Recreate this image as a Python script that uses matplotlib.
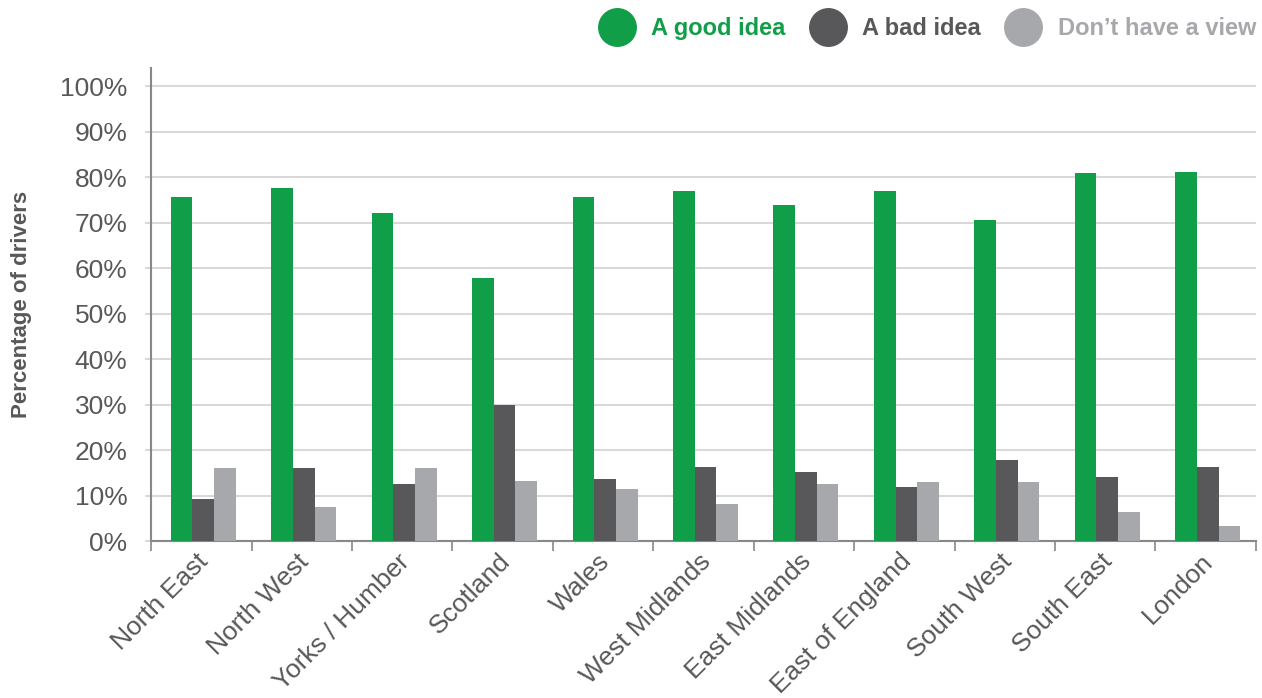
import matplotlib
matplotlib.use('Agg')

import numpy as np
import matplotlib.pyplot as plt
import matplotlib.transforms as mtransforms
from matplotlib.lines import Line2D

plt.rcParams['font.family'] = ['Liberation Sans', 'DejaVu Sans']

regions = ['North East', 'North West', 'Yorks / Humber', 'Scotland', 'Wales',
           'West Midlands', 'East Midlands', 'East of England', 'South West',
           'South East', 'London']
good_idea = [75.6, 77.6, 72.1, 57.8, 75.6, 76.9, 73.8, 76.9, 70.5, 80.9, 81.1]
bad_idea = [9.2, 16.0, 12.5, 29.9, 13.6, 16.3, 15.2, 11.9, 17.8, 14.1, 16.3]
no_view = [16.0, 7.5, 16.0, 13.2, 11.4, 8.1, 12.5, 13.0, 13.0, 6.4, 3.3]
series_names = ['A good idea', 'A bad idea', 'Don\u2019t have a view']

GREEN = '#119e48'
DARK = '#58585a'
LIGHT = '#a7a8ab'
TEXT = '#58585a'
colors = [GREEN, DARK, LIGHT]

fig = plt.figure(figsize=(12.62, 6.98), dpi=100)
ax = fig.add_axes([0.1197, 0.2249, 0.8755, 0.6777])

x = np.arange(len(regions))
w = 0.216
for i, (vals, c) in enumerate(zip([good_idea, bad_idea, no_view], colors)):
    ax.bar(x + (i - 1) * w + 0.02, vals, width=w, color=c, zorder=3)

ax.set_xlim(-0.5, len(regions) - 0.5)
ax.set_ylim(0, 104)
ax.set_yticks(np.arange(0, 101, 10))
ax.set_yticklabels([f'{v}%' for v in range(0, 101, 10)], fontsize=19, color=TEXT)
ax.yaxis.grid(True, color='#d9d9d9', linewidth=1.5, zorder=0)
ax.tick_params(axis='y', length=4, width=1.5, color='#d9d9d9', pad=13)

# category labels on centres, tick marks on the group boundaries
ax.set_xticks(x)
ax.set_xticklabels(regions, rotation=45, ha='right', rotation_mode='anchor',
                   fontsize=19, color=TEXT)
ax.tick_params(axis='x', which='major', length=0, pad=6)
shift = mtransforms.ScaledTranslation(-5 / 100, 0, fig.dpi_scale_trans)
for lbl in ax.get_xticklabels():
    lbl.set_transform(lbl.get_transform() + shift)
ax.set_xticks(np.arange(-0.5, len(regions), 1), minor=True)
ax.tick_params(axis='x', which='minor', length=7, width=1.2, color='#888888')

for side in ['top', 'right']:
    ax.spines[side].set_visible(False)
for side in ['left', 'bottom']:
    ax.spines[side].set_color('#888888')
    ax.spines[side].set_linewidth(1.5)

ax.set_ylabel('Percentage of drivers', fontsize=16, fontweight='bold',
              color=TEXT, labelpad=20)

handles = [Line2D([], [], marker='o', linestyle='none', markersize=27,
                  markerfacecolor=c, markeredgecolor=c) for c in colors]
leg = fig.legend(handles, series_names, loc='upper right', ncol=3,
                 bbox_to_anchor=(1.012, 1.006), frameon=False,
                 prop={'size': 17, 'weight': 'bold'},
                 handletextpad=0.75, columnspacing=1.1, handlelength=1.4)
for t, c in zip(leg.get_texts(), colors):
    t.set_color(c)

fig.savefig('out.png', dpi=100)
